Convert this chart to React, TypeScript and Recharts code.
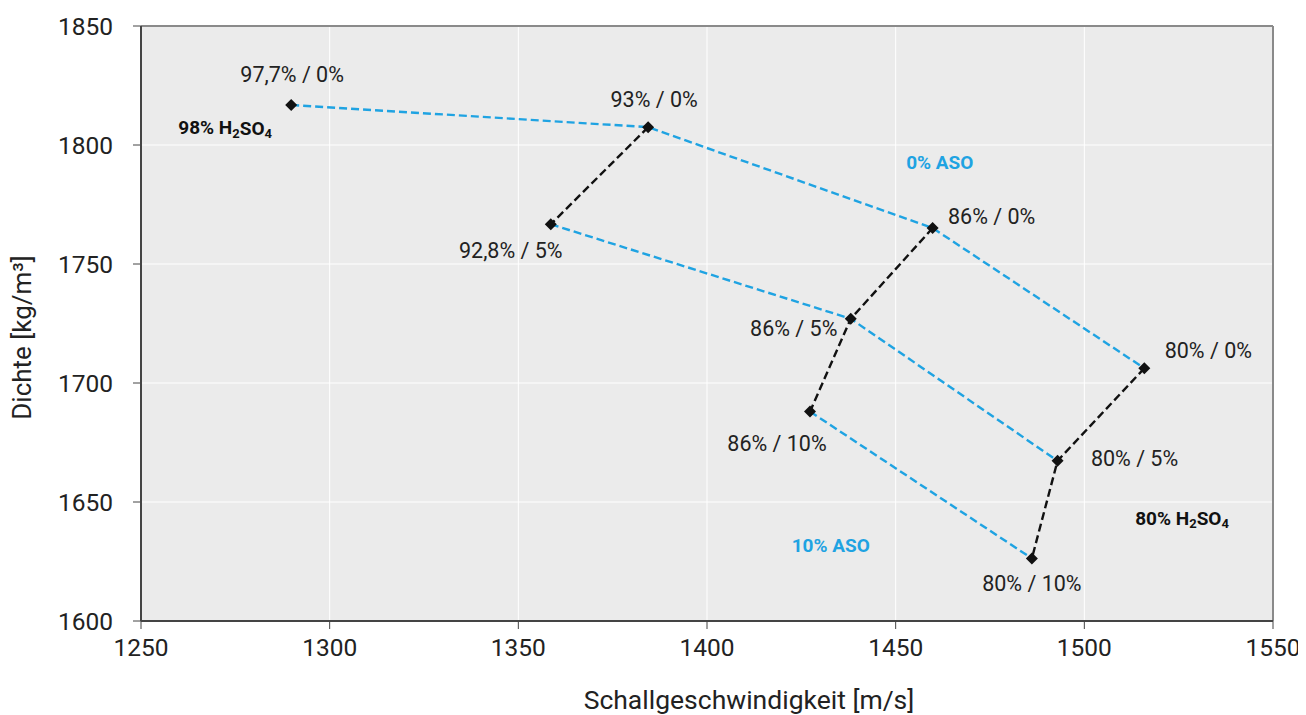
import {
  ScatterChart,
  Scatter,
  XAxis,
  YAxis,
  CartesianGrid,
  ReferenceLine,
} from "recharts";

// H2SO4 / ASO series (speed of sound in m/s, density in kg/m³)
const speedAso0 = [1289.8, 1384.4, 1459.8, 1515.9];
const densityAso0 = [1816.8, 1807.5, 1765.1, 1706.2];
const labelsAso0 = ["97,7% / 0%", "93% / 0%", "86% / 0%", "80% / 0%"];

const speedAso5 = [1358.6, 1438.1, 1492.9];
const densityAso5 = [1766.7, 1727.0, 1667.3];
const labelsAso5 = ["92,8% / 5%", "86% / 5%", "80% / 5%"];

const speedAso10 = [1427.3, 1486.1];
const densityAso10 = [1688.0, 1626.3];
const labelsAso10 = ["86% / 10%", "80% / 10%"];

const xTicks = [1250, 1300, 1350, 1400, 1450, 1500, 1550];
const yTicks = [1600, 1650, 1700, 1750, 1800, 1850];

const notes = [
  { x: 1272.3, y: 1807.2, main: "98% H", sub1: "2", mid: "SO", sub2: "4", kind: "acid" },
  { x: 1461.7, y: 1792.5, main: "0% ASO", kind: "aso" },
  { x: 1432.8, y: 1631.9, main: "10% ASO", kind: "aso" },
  { x: 1525.9, y: 1643.2, main: "80% H", sub1: "2", mid: "SO", sub2: "4", kind: "acid" },
];

const BLUE = "#1fa3e2";
const FONT = "Roboto, 'Noto Sans', sans-serif";

const toPoints = (xs: number[], ys: number[], labels: string[]) =>
  xs.map((x, i) => ({ x, y: ys[i], label: labels[i] }));

const aso0 = toPoints(speedAso0, densityAso0, labelsAso0);
const aso5 = toPoints(speedAso5, densityAso5, labelsAso5);
const aso10 = toPoints(speedAso10, densityAso10, labelsAso10);

// constant H2SO4 lines (black)
const acid93 = [aso0[1], aso5[0]];
const acid86 = [aso0[2], aso5[1], aso10[0]];
const acid80 = [aso0[3], aso5[2], aso10[1]];

const allPoints = [...aso0, ...aso5, ...aso10];

// label offsets relative to the marker (px)
const labelOffset: Record<string, [number, number]> = {
  "97,7% / 0%": [1, -31],
  "93% / 0%": [6, -28],
  "92,8% / 5%": [-40, 26],
  "86% / 0%": [59, -12],
  "86% / 5%": [-57, 10],
  "86% / 10%": [-33, 32],
  "80% / 0%": [64, -18],
  "80% / 5%": [77, -2],
  "80% / 10%": [0, 25],
};

const dash = "8 4";
const noDot = () => <g />;

const Diamond = (props: any) => {
  const { cx, cy, payload } = props;
  const [dx, dy] = labelOffset[payload.label] || [0, -20];
  const r = 6;
  return (
    <g>
      <path
        d={`M${cx},${cy - r}L${cx + r},${cy}L${cx},${cy + r}L${cx - r},${cy}Z`}
        fill="#111"
      />
      <text
        x={cx + dx}
        y={cy + dy}
        textAnchor="middle"
        dominantBaseline="central"
        fontSize={21.5}
        fontFamily={FONT}
        fill="#222"
      >
        {payload.label}
      </text>
    </g>
  );
};

const Note = (props: any) => {
  const { cx, cy, payload } = props;
  const color = payload.kind === "aso" ? BLUE : "#111";
  return (
    <text
      x={cx}
      y={cy}
      textAnchor="middle"
      dominantBaseline="central"
      fontSize={19}
      fontWeight="bold"
      fontFamily={FONT}
      fill={color}
    >
      {payload.main}
      {payload.sub1 && (
        <>
          <tspan fontSize={13} dy={5}>{payload.sub1}</tspan>
          <tspan dy={-5}>{payload.mid}</tspan>
          <tspan fontSize={13} dy={5}>{payload.sub2}</tspan>
        </>
      )}
    </text>
  );
};

const blueLine = { stroke: BLUE, strokeWidth: 2.4, strokeDasharray: dash };
const blackLine = { stroke: "#111", strokeWidth: 2.4, strokeDasharray: dash };

export default function App() {
  return (
    <ScatterChart
      width={1298}
      height={707}
      margin={{ top: 18, right: 33, left: 0, bottom: 0 }}
    >
      <CartesianGrid
        fill="#ebebeb"
        stroke="#ffffff"
        strokeWidth={1}
        horizontalValues={yTicks}
        verticalValues={xTicks}
      />
      <XAxis
        type="number"
        dataKey="x"
        domain={[1250, 1550]}
        ticks={xTicks}
        height={94}
        tickSize={8}
        tickMargin={10}
        tick={{ fontSize: 24.5, fill: "#222", fontFamily: FONT }}
        axisLine={{ stroke: "#444", strokeWidth: 2 }}
        tickLine={{ stroke: "#444" }}
        label={{
          value: "Schallgeschwindigkeit [m/s]",
          position: "insideBottom",
          offset: 6,
          dx: 42,
          fontSize: 26.5,
          fill: "#222",
          fontFamily: FONT,
        }}
      />
      <YAxis
        type="number"
        dataKey="y"
        domain={[1600, 1850]}
        ticks={yTicks}
        width={133}
        tickSize={8}
        tickMargin={20}
        tick={{ fontSize: 24.5, fill: "#222", fontFamily: FONT }}
        axisLine={{ stroke: "#444", strokeWidth: 2 }}
        tickLine={{ stroke: "#444" }}
        label={{
          value: "Dichte [kg/m³]",
          angle: -90,
          position: "insideLeft",
          offset: 14,
          dy: 14,
          style: { textAnchor: "middle" },
          fontSize: 26,
          fill: "#222",
          fontFamily: FONT,
        }}
      />
      <ReferenceLine y={1850} stroke="#8a8a8a" strokeWidth={2} />
      <ReferenceLine x={1550} stroke="#8a8a8a" strokeWidth={2} />

      <Scatter data={aso0} line={blueLine} shape={noDot} isAnimationActive={false} />
      <Scatter data={aso5} line={blueLine} shape={noDot} isAnimationActive={false} />
      <Scatter data={aso10} line={blueLine} shape={noDot} isAnimationActive={false} />
      <Scatter data={acid93} line={blackLine} shape={noDot} isAnimationActive={false} />
      <Scatter data={acid86} line={blackLine} shape={noDot} isAnimationActive={false} />
      <Scatter data={acid80} line={blackLine} shape={noDot} isAnimationActive={false} />

      <Scatter data={allPoints} shape={Diamond} isAnimationActive={false} />
      <Scatter data={notes} shape={Note} isAnimationActive={false} />
    </ScatterChart>
  );
}
